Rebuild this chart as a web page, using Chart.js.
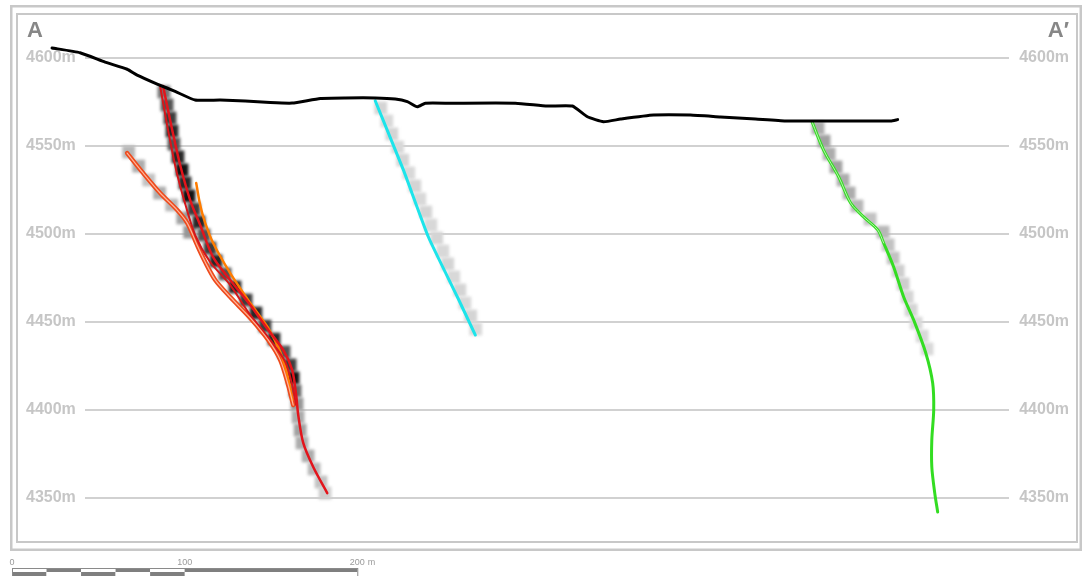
<!DOCTYPE html>
<html>
<head>
<meta charset="utf-8">
<script src="https://cdn.jsdelivr.net/npm/chart.js@4/dist/chart.umd.min.js"></script>
<style>
  html, body { margin: 0; padding: 0; background: #fff; }
  #wrap { width: 1086px; height: 576px; }
</style>
</head>
<body>
<div id="wrap"><canvas id="section" width="1086" height="576"></canvas></div>
<script>
// Cross-section A–A′. x = metres along the section line, z = elevation (m).
const elevationTicks = [4350, 4400, 4450, 4500, 4550, 4600];
const scaleBarMarks = [0, 100, 200];
const scaleBarSubdivisions = 5;

// Ground surface
const surfaceX = [20.3, 36.5, 51.0, 63.8, 69.6, 81.2, 91.6, 103.2, 117.7, 132.2, 146.7, 159.4, 175.7, 190.1, 207.5, 219.1,
                  226.1, 231.9, 236.5, 251.0, 288.7, 307.2, 321.7, 330.4, 339.7, 349.6, 368.7, 390.1, 407.5, 427.8, 445.2, 471.3,
                  506.1, 510.1];
const surfaceZ = [4605.7, 4603.0, 4597.7, 4593.6, 4590.3, 4585.2, 4581.0, 4576.1, 4576.1, 4575.6, 4574.7, 4574.4, 4577.0, 4577.3, 4577.3, 4576.7,
                  4575.2, 4572.3, 4574.3, 4574.3, 4574.3, 4572.7, 4572.7, 4566.6, 4563.8, 4565.3, 4567.6, 4567.6, 4566.5, 4565.3, 4564.2, 4564.2,
                  4564.2, 4565.0];

// Drill-hole traces
const holeRedX = [84.6, 89.9, 94.5, 100.3, 106.1, 113.6, 123.5, 135.1, 145.5, 154.2, 159.4, 161.7, 162.9, 165.8, 171.6, 179.7];
const holeRedZ = [4584.1, 4559.1, 4539.2, 4519.3, 4505.1, 4486.9, 4473.9, 4459.7, 4445.5, 4434.1, 4422.7, 4408.5, 4397.2, 4381.3, 4367.6, 4352.8];

const holeRed2X = [82.9, 87.5, 92.2, 96.8, 103.2, 111.9, 123.5, 135.1, 146.7, 155.4, 159.4, 161.7];
const holeRed2Z = [4584.1, 4559.1, 4536.4, 4519.3, 4499.4, 4484.1, 4471.0, 4454.0, 4439.8, 4427.3, 4414.2, 4402.8];

const holeOrangeX = [103.8, 106.1, 109.0, 113.6, 123.5, 135.1, 145.5, 152.5, 157.1, 159.4];
const holeOrangeZ = [4529.0, 4516.5, 4506.3, 4494.9, 4477.8, 4460.8, 4446.6, 4433.0, 4418.2, 4405.7];

const holeBranchX = [63.8, 73.0, 82.9, 92.8, 98.6, 104.3, 109.0, 114.8, 123.5, 135.1, 145.5, 152.5, 157.1, 160.0];
const holeBranchZ = [4546.0, 4534.7, 4523.3, 4513.6, 4506.3, 4493.8, 4484.1, 4473.9, 4464.2, 4452.3, 4439.8, 4428.4, 4414.2, 4402.8];

const holeCyanX = [207.5, 223.8, 238.3, 255.1, 265.5];
const holeCyanZ = [4575.7, 4536.4, 4498.3, 4464.2, 4442.6];

const holeGreenX = [460.6, 467.2, 476.0, 482.9, 490.4, 498.6, 502.0, 507.8, 513.6, 519.4, 526.4, 530.4, 531.0, 529.9, 529.9, 531.6, 533.3];
const holeGreenZ = [4563.6, 4547.7, 4532.4, 4517.6, 4509.7, 4502.3, 4494.9, 4481.3, 4464.2, 4451.1, 4432.4, 4415.3, 4400.0, 4383.0, 4367.6, 4352.8, 4342.0];

// Assay intervals (centre of interval, relative grade 0..1)
const logRedX = [85.1, 86.9, 88.6, 89.8, 90.9, 93.2, 95.6, 97.3, 99.6, 102.5, 105.4, 108.3, 111.8, 115.3, 120.5, 126.3,
                 132.7, 138.4, 143.7, 148.9, 154.7, 158.2, 159.9, 161.1, 162.2, 162.8, 164.0, 165.1, 168.6, 172.1, 176.1, 178.4];
const logRedZ = [4580.7, 4573.3, 4565.9, 4558.5, 4551.1, 4543.8, 4536.4, 4529.0, 4521.6, 4514.2, 4506.8, 4499.4, 4492.0, 4484.7, 4477.3, 4469.9,
                 4462.5, 4455.1, 4447.7, 4440.3, 4433.0, 4425.6, 4418.2, 4410.8, 4403.4, 4396.0, 4388.6, 4381.3, 4373.9, 4366.5, 4359.1, 4352.8];
const logRedGrade = [0.55, 0.7, 0.8, 0.9, 0.7, 0.9, 1.0, 0.9, 1.0, 0.8, 0.9, 0.7, 0.8, 0.9, 0.7, 0.9,
                     0.8, 0.9, 0.8, 0.9, 0.7, 0.8, 1.0, 0.6, 0.4, 0.3, 0.35, 0.3, 0.3, 0.25, 0.2, 0.15];

const logBranchX = [64.7, 70.5, 76.3, 82.6, 89.6, 96.0, 100.0];
const logBranchZ = [4546.6, 4538.6, 4530.7, 4523.3, 4516.5, 4509.1, 4501.1];
const logBranchGrade = [0.25, 0.3, 0.2, 0.3, 0.25, 0.35, 0.4];

const logCyanX = [210.7, 214.2, 217.1, 220.5, 223.4, 226.9, 230.4, 233.3, 236.8, 239.7, 243.1, 246.6, 249.5, 253.0, 256.5, 259.4, 262.8, 265.7];
const logCyanZ = [4571.6, 4564.2, 4556.8, 4549.4, 4542.0, 4534.7, 4527.3, 4519.9, 4512.5, 4505.1, 4497.7, 4490.3, 4483.0, 4475.6, 4468.2, 4460.8, 4453.4, 4446.0];
const logCyanGrade = [0.12, 0.1, 0.12, 0.1, 0.12, 0.1, 0.12, 0.1, 0.12, 0.1, 0.12, 0.1, 0.12, 0.1, 0.12, 0.1, 0.12, 0.1];

const logGreenX = [464.0, 467.5, 470.4, 474.4, 478.5, 482.0, 486.6, 494.2, 501.7, 504.6, 507.5, 510.4, 513.3, 515.6, 517.9, 520.8, 524.3, 527.2];
const logGreenZ = [4560.2, 4552.8, 4545.5, 4538.1, 4530.7, 4523.3, 4515.9, 4508.5, 4501.1, 4493.8, 4486.4, 4479.0, 4471.6, 4464.2, 4456.8, 4449.4, 4442.0, 4434.7];
const logGreenGrade = [0.3, 0.35, 0.3, 0.35, 0.3, 0.3, 0.25, 0.2, 0.25, 0.2, 0.2, 0.15, 0.15, 0.12, 0.12, 0.1, 0.1, 0.1];

const toPoints = (xs, zs, grades) => xs.map((x, i) => grades ? { x, y: zs[i], g: grades[i] } : { x, y: zs[i] });

const traceDs = (label, xs, zs, color, width, extra) => Object.assign({
  label, data: toPoints(xs, zs), showLine: true, borderColor: color, borderWidth: width,
  pointRadius: 0, tension: 0.3, borderCapStyle: 'round', borderJoinStyle: 'round', order: 2, fill: false
}, extra || {});

const logDs = (label, xs, zs, grades) => ({
  label, data: toPoints(xs, zs, grades), showLine: false, isLog: true, order: 3,
  pointStyle: 'rect', pointRadius: 9, borderWidth: 0,
  backgroundColor: ctx => {
    const g = ctx.raw ? ctx.raw.g : 0.2;
    const c = Math.round(238 - g * 220);
    return `rgb(${c},${c},${c})`;
  }
});

const sectionDecor = {
  id: 'sectionDecor',
  beforeDraw(chart) {
    const { ctx } = chart;
    ctx.save();
    ctx.fillStyle = '#fff';
    ctx.fillRect(0, 0, chart.width, chart.height);
    ctx.strokeStyle = '#c8c8c8';
    ctx.lineWidth = 2.5;
    ctx.strokeRect(11.25, 6.25, 1069.5, 543.5);
    ctx.lineWidth = 2;
    const a = chart.chartArea;
    ctx.strokeRect(a.left, a.top, a.right - a.left, a.bottom - a.top);
    ctx.restore();
  },
  beforeDatasetsDraw(chart) {
    const { ctx, chartArea: a, scales: { y } } = chart;
    ctx.save();
    ctx.strokeStyle = '#c2c2c2';
    ctx.lineWidth = 1.5;
    elevationTicks.forEach(v => {
      const py = y.getPixelForValue(v);
      ctx.beginPath();
      ctx.moveTo(a.left + 68, py);
      ctx.lineTo(a.right - 68, py);
      ctx.stroke();
    });
    ctx.font = 'bold 16px "Liberation Sans", Arial, sans-serif';
    ctx.fillStyle = '#c6c6c6';
    ctx.textBaseline = 'middle';
    elevationTicks.forEach(v => {
      const py = y.getPixelForValue(v);
      ctx.textAlign = 'left';
      ctx.fillText(v + 'm', a.left + 9, py);
      ctx.textAlign = 'right';
      ctx.fillText(v + 'm', a.right - 8, py);
    });
    ctx.restore();
  },
  beforeDatasetDraw(chart, args) {
    if (chart.data.datasets[args.index].isLog) {
      chart.ctx.save();
      chart.ctx.filter = 'blur(1.4px)';
    }
  },
  afterDatasetDraw(chart, args) {
    if (chart.data.datasets[args.index].isLog) chart.ctx.restore();
  },
  afterDraw(chart) {
    const { ctx, chartArea: a, scales: { x } } = chart;
    ctx.save();
    // section end labels
    ctx.font = 'bold 22px "Liberation Sans", Arial, sans-serif';
    ctx.fillStyle = '#878787';
    ctx.textBaseline = 'alphabetic';
    ctx.textAlign = 'left';
    ctx.fillText('A', a.left + 10, a.top + 23);
    ctx.textAlign = 'right';
    ctx.fillText('A′', a.right - 8, a.top + 23);

    // scale bar
    const mPx = (x.getPixelForValue(100) - x.getPixelForValue(0)) / 100;
    const x0 = 12, top = 568, rowH = 4;
    const first = scaleBarMarks[1];
    const sub = first / scaleBarSubdivisions;
    ctx.lineWidth = 1;
    for (let i = 0; i < scaleBarSubdivisions; i++) {
      const sx = x0 + i * sub * mPx, w = sub * mPx;
      ctx.fillStyle = i % 2 === 0 ? '#ffffff' : '#7f7f7f';
      ctx.fillRect(sx, top, w, rowH);
      ctx.fillStyle = i % 2 === 0 ? '#7f7f7f' : '#ffffff';
      ctx.fillRect(sx, top + rowH, w, rowH);
    }
    const last = scaleBarMarks[scaleBarMarks.length - 1];
    ctx.fillStyle = '#7f7f7f';
    ctx.fillRect(x0 + first * mPx, top, (last - first) * mPx, rowH);
    ctx.strokeStyle = '#8a8a8a';
    ctx.strokeRect(x0 + 0.5, top + 0.5, last * mPx, rowH * 2);

    ctx.font = '9px "Liberation Sans", Arial, sans-serif';
    ctx.fillStyle = '#9a9a9a';
    ctx.textBaseline = 'middle';
    ctx.textAlign = 'center';
    scaleBarMarks.forEach((m, i) => {
      const px = x0 + m * mPx;
      ctx.fillText(String(m), px, 563);
      if (i === scaleBarMarks.length - 1) {
        ctx.textAlign = 'left';
        ctx.fillText('m', px + ctx.measureText(String(m)).width / 2 + 3, 563);
      }
    });
    ctx.restore();
  }
};

new Chart(document.getElementById('section'), {
  type: 'scatter',
  data: {
    datasets: [
      traceDs('Surface', surfaceX, surfaceZ, '#000000', 3, { order: 1, tension: 0.15 }),
      traceDs('DH-1', holeRedX, holeRedZ, '#e3141b', 2.5),
      traceDs('DH-2', holeRed2X, holeRed2Z, '#d4161a', 2),
      traceDs('DH-3', holeOrangeX, holeOrangeZ, '#ff7c00', 2.5),
      traceDs('DH-4', holeBranchX, holeBranchZ, '#ffb49a', 1.2, { order: 1.5 }),
      traceDs('DH-4 outline', holeBranchX, holeBranchZ, '#ee4a1c', 4.5),
      traceDs('DH-5', holeCyanX, holeCyanZ, '#1de4ea', 3, { tension: 0.15 }),
      traceDs('DH-6', holeGreenX, holeGreenZ, '#33dd22', 3),
      traceDs('DH-6 upper', holeGreenX.slice(0, 7), holeGreenZ.slice(0, 7), '#b8f3ae', 1, { order: 1.5 }),
      logDs('DH-1 assays', logRedX, logRedZ, logRedGrade),
      logDs('DH-4 assays', logBranchX, logBranchZ, logBranchGrade),
      logDs('DH-5 assays', logCyanX, logCyanZ, logCyanGrade),
      logDs('DH-6 assays', logGreenX, logGreenZ, logGreenGrade)
    ]
  },
  options: {
    responsive: false,
    animation: false,
    events: [],
    devicePixelRatio: 1,
    layout: { padding: { left: 17, right: 9, top: 14, bottom: 34 } },
    plugins: { legend: { display: false }, tooltip: { enabled: false } },
    scales: {
      x: { type: 'linear', min: 0, max: 614, display: false },
      y: { type: 'linear', min: 4325, max: 4625, display: false }
    }
  },
  plugins: [sectionDecor]
});
</script>
</body>
</html>
